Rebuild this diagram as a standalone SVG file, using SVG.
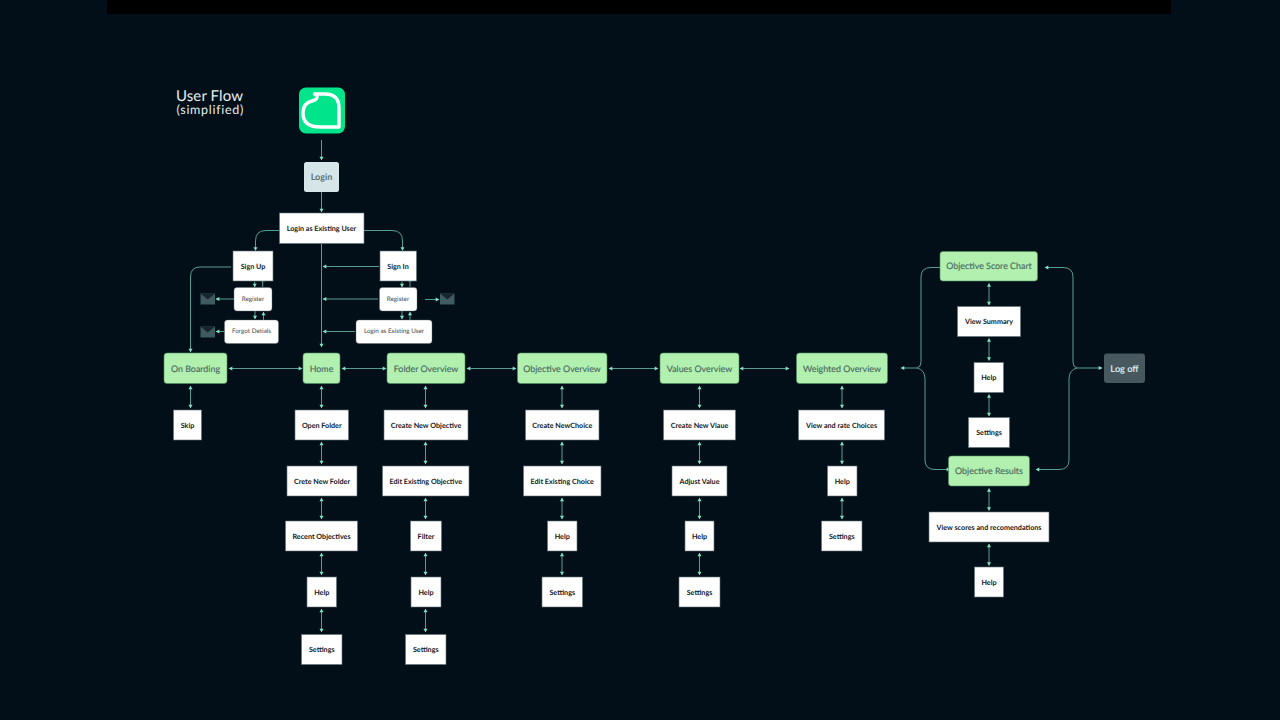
<svg xmlns="http://www.w3.org/2000/svg" width="1280" height="720" viewBox="0 0 1280 720">
<style>
text{font-family:"Lato","Noto Sans",sans-serif;text-anchor:middle;dominant-baseline:central;text-rendering:geometricPrecision}
.w rect{fill:#fff;stroke:#5f7075;stroke-width:.6}
.w text{fill:#10181c;font-size:7.2px;font-weight:700}
.s rect{fill:#fff;stroke:#5f7075;stroke-width:.4}
.s text{fill:#3c4649;font-size:6.3px}
.g rect{fill:#b2f0b0;stroke:#4e8d62;stroke-width:.6}
.g text{fill:#4b6a62;font-size:8.9px;font-weight:400;stroke:#4b6a62;stroke-width:.15}
.c path{fill:none;stroke:#569f90;stroke-width:1;marker-end:url(#a)}
.c path.d{marker-start:url(#b)}
.c path.n{marker-end:none}
.e rect{fill:#3f5a60}
.e path{fill:#16262c}
.t{fill:#e6eef0;text-anchor:start;font-weight:400}
</style>
<defs>
<marker id="a" markerUnits="userSpaceOnUse" markerWidth="6" markerHeight="6" refX="4.5" refY="3" orient="auto"><path d="M1.200 1L4.800 3L1.200 5Z" fill="#7fe6c6"/></marker>
<marker id="b" markerUnits="userSpaceOnUse" markerWidth="6" markerHeight="6" refX="1.500" refY="3" orient="auto"><path d="M4.800 1L1.200 3L4.800 5Z" fill="#7fe6c6"/></marker>
</defs>
<rect width="1280" height="720" fill="#030f18"/>
<rect x="107" width="1064" height="14" fill="#000"/>
<text class="t" x="176" y="96" font-size="15" letter-spacing=".1">User Flow</text>
<text class="t" x="176.500" y="109" font-size="12.500" letter-spacing=".7">(simplified)</text>

<g id="connectors" class="c">
<path d="M321.500 140V160"/><path d="M321.500 192V212"/>
<path d="M279 230.500H266Q255.500 230.500 255.500 241V250.500"/>
<path d="M364 230.500H392Q402.500 230.500 402.500 241V250.500"/>
<path d="M321.500 243.500V347"/>
<path d="M379 266.500H323"/><path d="M378 299H323"/><path d="M355 331.500H323"/>
<path d="M231 267H200Q190.500 267 190.500 277V352"/>
<path d="M254.700 281.500V287"/><path d="M262.700 287V278"/>
<path d="M255 311V319"/><path d="M263.500 320V312"/>
<path d="M402 281.500V287"/><path d="M410 287V278"/>
<path d="M402 311V319"/><path d="M410 320V312"/>
<path d="M234 299H216"/><path d="M224 331.500H216"/><path d="M425 299.500H439"/>
<path class="d" d="M229 368.500H302"/><path class="d" d="M342 368.500H386"/>
<path class="d" d="M467 368.500H516"/><path class="d" d="M609 368.500H658"/><path class="d" d="M740 368.500H789"/>
<path class="d" d="M190.500 386V408"/>
<path class="d" d="M321.500 386V408"/><path class="d" d="M321.500 442V464"/><path class="d" d="M321.500 498V519"/><path class="d" d="M321.500 553V575"/><path class="d" d="M321.500 609V632"/>
<path class="d" d="M425.500 386V408"/><path class="d" d="M425.500 442V464"/><path class="d" d="M425.500 498V519"/><path class="d" d="M425.500 553V575"/><path class="d" d="M425.500 609V632"/>
<path class="d" d="M562 386V408"/><path class="d" d="M562 442V464"/><path class="d" d="M562 498V519"/><path class="d" d="M562 553V575"/>
<path class="d" d="M699.500 386V408"/><path class="d" d="M699.500 442V464"/><path class="d" d="M699.500 498V519"/><path class="d" d="M699.500 553V575"/>
<path class="d" d="M842 386V408"/><path class="d" d="M842 442V464"/><path class="d" d="M842 498V519"/>
<path class="d" d="M989 283.500V305"/><path class="d" d="M989 338.500V360.500"/><path class="d" d="M989 394.500V416"/>
<path class="d" d="M989 488.500V510.500"/><path class="d" d="M989 544V565.500"/>
<path class="n" d="M917 368Q921 367 921 362V277Q921 267.500 931 267.500H943"/>
<path d="M917 368Q925 370 925 379V460Q925 469.500 935 469.500H950"/>
<path d="M917 368H901"/>
<path d="M1077 368Q1073 367 1073 362V277Q1073 267.500 1063 267.500H1045"/>
<path d="M1077 368Q1069 370 1069 379V460Q1069 469.500 1059 469.500H1036"/>
<path d="M1077 368H1102"/>
</g>

<g id="app-icon"><rect x="299" y="87.500" width="46" height="46" rx="7" fill="#00e58c"/><path d="M314.500 94H325Q339 94 339 108V127H320Q303 127 303 113Q303 103 312 101Q318 99.500 317 96Q316.500 94 314.500 94Z" fill="none" stroke="#fff" stroke-width="3.400" stroke-linejoin="round"/></g>
<g id="login"><rect x="304" y="162" width="35" height="30" rx="2.500" fill="#d5e5e8"/><text x="321.500" y="176.500" font-size="9" font-weight="700" fill="#5b7676">Login</text></g>
<g id="login-existing" class="w"><rect x="279.500" y="213" width="84.500" height="30.500"/><text x="321.500" y="228.500">Login as Existing User</text></g>
<g id="sign-up" class="w"><rect x="233" y="251" width="40" height="30"/><text x="253" y="266.500">Sign Up</text></g>
<g id="sign-in" class="w"><rect x="380" y="251" width="36.500" height="30"/><text x="398" y="266.500">Sign In</text></g>
<g id="register-l" class="s"><rect x="234" y="287.500" width="38" height="23.500" rx="3"/><text x="253" y="299">Register</text></g>
<g id="forgot" class="s"><rect x="224.500" y="320" width="54" height="23.500" rx="3"/><text x="251.500" y="331.500">Forgot Detials</text></g>
<g id="register-r" class="s"><rect x="379.500" y="287.500" width="37.500" height="23.500" rx="3"/><text x="398" y="299">Register</text></g>
<g id="login-existing-2" class="s"><rect x="356" y="320" width="76" height="23.500" rx="3"/><text x="394" y="331.500">Login as Existing User</text></g>
<g id="mail-1" class="e"><rect x="200.500" y="293.500" width="14.500" height="11"/><path d="M200.500 293.500H215L207.750 299.500Z"/></g>
<g id="mail-2" class="e"><rect x="200.500" y="326.500" width="14.500" height="11"/><path d="M200.500 326.500H215L207.750 332.500Z"/></g>
<g id="mail-3" class="e"><rect x="440" y="293.500" width="14.500" height="11"/><path d="M440 293.500H454.500L447.250 299.500Z"/></g>

<g id="on-boarding" class="g"><rect x="164" y="353" width="63" height="30.500" rx="3"/><text x="195.500" y="368">On Boarding</text></g>
<g id="home" class="g"><rect x="303" y="353" width="37" height="30.500" rx="3"/><text x="321.500" y="368">Home</text></g>
<g id="folder-overview" class="g"><rect x="387" y="353" width="78" height="30.500" rx="3"/><text x="426" y="368">Folder Overview</text></g>
<g id="objective-overview" class="g"><rect x="517.500" y="353" width="89.500" height="30.500" rx="3"/><text x="562" y="368">Objective Overview</text></g>
<g id="values-overview" class="g"><rect x="660" y="353" width="79" height="30.500" rx="3"/><text x="699.500" y="368">Values Overview</text></g>
<g id="weighted-overview" class="g"><rect x="796.500" y="353" width="91" height="30.500" rx="3"/><text x="842" y="368">Weighted Overview</text></g>
<g id="score-chart" class="g"><rect x="940" y="251.500" width="97.500" height="29.500" rx="3"/><text x="989" y="265.500">Objective Score Chart</text></g>
<g id="results" class="g"><rect x="948.500" y="456" width="81" height="30" rx="3"/><text x="989" y="470.500">Objective Results</text></g>
<g id="log-off"><rect x="1104" y="353.500" width="41" height="29.500" rx="3" fill="#47595f"/><text x="1124.500" y="368" font-size="9.200" font-weight="700" fill="#d5e5e8">Log off</text></g>

<g id="skip" class="w"><rect x="173.500" y="410" width="28" height="30"/><text x="187.500" y="425">Skip</text></g>
<g id="open-folder" class="w"><rect x="295" y="410" width="53.500" height="30"/><text x="321.750" y="425">Open Folder</text></g>
<g id="crete-folder" class="w"><rect x="287" y="466" width="70" height="30"/><text x="322" y="481">Crete New Folder</text></g>
<g id="recent" class="w"><rect x="285.500" y="521" width="72" height="30"/><text x="321.500" y="536">Recent Objectives</text></g>
<g id="help-1" class="w"><rect x="307" y="577" width="29.500" height="30"/><text x="321.750" y="592">Help</text></g>
<g id="settings-1" class="w"><rect x="301.500" y="634.500" width="40.500" height="30"/><text x="321.750" y="649.500">Settings</text></g>

<g id="create-objective" class="w"><rect x="384" y="410" width="84" height="30"/><text x="426" y="425">Create New Objective</text></g>
<g id="edit-objective" class="w"><rect x="382.500" y="466" width="86.500" height="30"/><text x="425.750" y="481">Edit Existing Objective</text></g>
<g id="filter" class="w"><rect x="410.500" y="521" width="31" height="30"/><text x="426" y="536">Filter</text></g>
<g id="help-2" class="w"><rect x="411" y="577" width="30" height="30"/><text x="426" y="592">Help</text></g>
<g id="settings-2" class="w"><rect x="405.500" y="634.500" width="40.500" height="30"/><text x="425.750" y="649.500">Settings</text></g>

<g id="create-choice" class="w"><rect x="525.500" y="410" width="73.500" height="30"/><text x="562.250" y="425">Create NewChoice</text></g>
<g id="edit-choice" class="w"><rect x="523.500" y="466" width="77.500" height="30"/><text x="562.250" y="481">Edit Existing Choice</text></g>
<g id="help-3" class="w"><rect x="547.500" y="521" width="29.500" height="30"/><text x="562.250" y="536">Help</text></g>
<g id="settings-3" class="w"><rect x="542" y="577" width="40.500" height="30"/><text x="562.250" y="592">Settings</text></g>

<g id="create-value" class="w"><rect x="663.500" y="410" width="72" height="30"/><text x="699.500" y="425">Create New Viaue</text></g>
<g id="adjust" class="w"><rect x="672" y="466" width="55" height="30"/><text x="699.500" y="481">Adjust Value</text></g>
<g id="help-4" class="w"><rect x="685" y="521" width="29" height="30"/><text x="699.500" y="536">Help</text></g>
<g id="settings-4" class="w"><rect x="679" y="577" width="41" height="30"/><text x="699.500" y="592">Settings</text></g>

<g id="view-rate" class="w"><rect x="798.500" y="410" width="86" height="30"/><text x="841.500" y="425">View and rate Choices</text></g>
<g id="help-5" class="w"><rect x="827.500" y="466" width="29.500" height="30"/><text x="842.250" y="481">Help</text></g>
<g id="settings-5" class="w"><rect x="821.500" y="521" width="40.500" height="30"/><text x="841.750" y="536">Settings</text></g>

<g id="view-summary" class="w"><rect x="957.500" y="306.500" width="63" height="30"/><text x="989" y="321.500">View Summary</text></g>
<g id="help-6" class="w"><rect x="974" y="362.500" width="29.500" height="30"/><text x="988.750" y="377.500">Help</text></g>
<g id="settings-6" class="w"><rect x="968.500" y="417.500" width="41" height="30"/><text x="989" y="432.500">Settings</text></g>
<g id="view-scores" class="w"><rect x="929" y="512" width="120" height="30"/><text x="989" y="527">View scores and recomendations</text></g>
<g id="help-7" class="w"><rect x="974.500" y="567" width="29" height="30"/><text x="989" y="582">Help</text></g>
</svg>
